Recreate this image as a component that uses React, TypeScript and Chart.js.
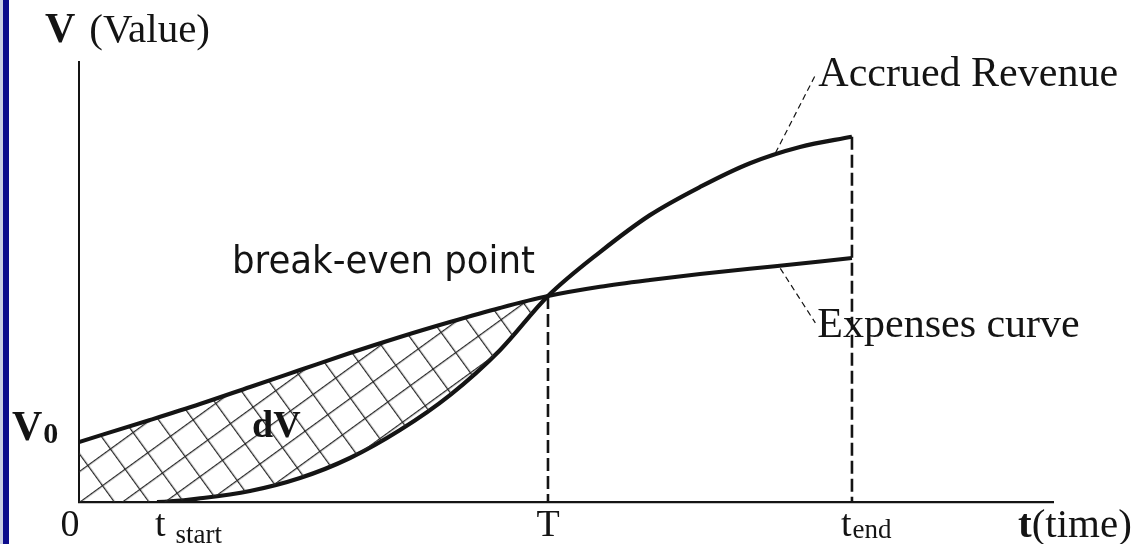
import React, { useEffect, useRef } from 'react';
import { Chart, registerables } from 'chart.js';

Chart.register(...registerables);

// ---- data (time axis 0..100, value axis 0..100, arbitrary units) ----
const revenueT = [0, 8.0, 12.73, 17.56, 22.69, 27.82, 32.96, 38.09, 43.22, 48.15, 53.49, 58.62, 63.76, 68.89, 74.02, 79.36];
const revenueV = [0, 0, 0.91, 2.5, 5.45, 10.0, 16.36, 24.3, 34.5, 46.8, 56.8, 65.2, 71.6, 77.0, 80.7, 83.0];
const expensesT = [0, 7.29, 12.42, 17.56, 22.69, 27.82, 32.96, 38.09, 43.22, 48.15, 53.49, 58.62, 63.76, 71.46, 79.36];
const expensesV = [13.64, 18.64, 22.27, 26.14, 30.0, 33.86, 37.5, 40.9, 44.1, 46.8, 48.9, 50.45, 51.8, 53.6, 55.45];

// key time marks on the horizontal axis
const markT = [0, 8.0, 48.15, 79.36];
const markMain = ['0', 't', 'T', 't'];
const markSub = ['', 'start', '', 'end'];

const T_BREAK = 48.15;
const V_BREAK = 46.8;
const T_END = 79.36;
const V_END_REVENUE = 83.0;
const V0 = 13.64;

// leader lines of the curve labels: [fromT, fromV, toT, toV]
const revenueLeader = [71.5, 79.3, 75.6, 97.0];
const expensesLeader = [72.0, 53.1, 75.6, 40.7];

const INK = '#141414';
const SERIF = '"Liberation Serif", "Times New Roman", serif';
const SANS = '"DejaVu Sans", Verdana, sans-serif';

function makeHatch(): CanvasPattern | string {
  const w = 28, h = 25;
  const c = document.createElement('canvas');
  c.width = w; c.height = h;
  const g = c.getContext('2d');
  if (!g) return 'transparent';
  g.fillStyle = '#262626';
  g.fillRect(0, 0, w, 1.25);
  g.fillRect(0, 0, 1.25, h);
  const p = g.createPattern(c, 'repeat');
  if (!p) return 'transparent';
  p.setTransform(new DOMMatrix().translateSelf(79, 502).rotateSelf(-36));
  return p;
}

const annotations = {
  id: 'annotations',
  afterDatasetsDraw(chart: any) {
    const { ctx, chartArea: a, scales } = chart;
    const X = (v: number) => scales.x.getPixelForValue(v);
    const Y = (v: number) => scales.y.getPixelForValue(v);
    ctx.save();
    ctx.strokeStyle = INK;
    ctx.fillStyle = INK;

    // dashed drop lines
    ctx.lineWidth = 2.6;
    ctx.setLineDash([13, 5]);
    ctx.beginPath();
    ctx.moveTo(X(T_BREAK), Y(V_BREAK));
    ctx.lineTo(X(T_BREAK), a.bottom);
    ctx.moveTo(X(T_END), Y(V_END_REVENUE));
    ctx.lineTo(X(T_END), a.bottom);
    ctx.stroke();

    // leader lines
    ctx.lineWidth = 1.2;
    ctx.setLineDash([6, 4]);
    ctx.beginPath();
    for (const l of [revenueLeader, expensesLeader]) {
      ctx.moveTo(X(l[0]), Y(l[1]));
      ctx.lineTo(X(l[2]), Y(l[3]));
    }
    ctx.stroke();
    ctx.setLineDash([]);

    const text = (s: string, x: number, y: number, font: string, align: CanvasTextAlign = 'left') => {
      ctx.font = font;
      ctx.textAlign = align;
      ctx.textBaseline = 'alphabetic';
      ctx.fillText(s, x, y);
      return ctx.measureText(s).width;
    };

    // axis titles
    let w = text('V', 45, 42, `bold 42px ${SERIF}`);
    text('(Value)', 45 + w + 14, 42, `41px ${SERIF}`);
    w = text('t', 1018, 537, `bold 41px ${SERIF}`);
    text('(time)', 1018 + w, 537, `41px ${SERIF}`);

    // V0
    w = text('V', 12, Y(V0) - 2, `bold 42px ${SERIF}`);
    text('0', 12 + w + 1, Y(V0) + 1, `bold 30px ${SERIF}`);

    // time marks
    const offs = [-9, -2, 0, -11];
    const aligns: CanvasTextAlign[] = ['center', 'left', 'center', 'left'];
    markT.forEach((t, i) => {
      const px = X(t) + offs[i];
      const mw = text(markMain[i], px, 536, `38px ${SERIF}`, aligns[i]);
      if (markSub[i]) {
        const gap = markSub[i] === 'start' ? 10 : 1;
        const dy = markSub[i] === 'start' ? 543 : 538;
        text(markSub[i], px + mw + gap, dy, `27px ${SERIF}`);
      }
    });

    // curve labels
    text('Accrued Revenue', X(revenueLeader[2]) + 3, 86, `42px ${SERIF}`);
    text('Expenses curve', X(expensesLeader[2]) + 2, 337, `42px ${SERIF}`);

    // dV inside the hatched area
    text('dV', 252, 437, `bold 38px ${SERIF}`);

    // break-even label (fit to width)
    ctx.font = `37px ${SANS}`;
    const label = 'break-even point';
    const target = 303;
    const mw = ctx.measureText(label).width;
    const sx = target / mw;
    ctx.save();
    ctx.translate(X(T_BREAK) - 13, 273);
    ctx.scale(sx, 1);
    ctx.textAlign = 'right';
    ctx.fillText(label, 0, 0);
    ctx.restore();

    ctx.restore();
  },
};

export default function App() {
  const ref = useRef<HTMLCanvasElement>(null);
  useEffect(() => {
    if (!ref.current) return;
    const hatch = makeHatch();
    const chart = new Chart(ref.current, {
      type: 'line',
      data: {
        datasets: [
          {
            label: 'Expenses curve',
            data: expensesT.map((t, i) => ({ x: t, y: expensesV[i] })),
            borderColor: INK,
            borderWidth: 4,
            pointRadius: 0,
            cubicInterpolationMode: 'monotone',
            fill: { target: 1, above: hatch as any, below: 'rgba(0,0,0,0)' },
          },
          {
            label: 'Accrued Revenue',
            data: revenueT.map((t, i) => ({ x: t, y: revenueV[i] })),
            borderColor: INK,
            borderWidth: 4.2,
            pointRadius: 0,
            cubicInterpolationMode: 'monotone',
            fill: false,
            segment: {
              borderColor: (c: any) => (c.p0DataIndex === 0 ? 'rgba(0,0,0,0)' : undefined),
            },
          },
        ],
      },
      options: {
        animation: false,
        responsive: false,
        layout: { padding: { left: 79, top: 62, right: 87, bottom: 42 } },
        plugins: { legend: { display: false }, tooltip: { enabled: false } },
        scales: {
          x: {
            type: 'linear',
            min: 0,
            max: 100,
            grid: { display: false, drawTicks: false },
            ticks: { display: false },
            border: { display: true, color: INK, width: 2.2 },
          },
          y: {
            type: 'linear',
            min: 0,
            max: 100,
            grid: { display: false, drawTicks: false },
            ticks: { display: false },
            border: { display: true, color: INK, width: 2 },
          },
        },
      },
      plugins: [annotations],
    });
    return () => chart.destroy();
  }, []);

  return (
    <div style={{ position: 'fixed', left: 0, top: 0, width: 1140, height: 544, background: '#fff' }}>
      <canvas ref={ref} width={1140} height={544} style={{ position: 'absolute', left: 0, top: 0 }} />
      <div style={{ position: 'absolute', left: 0, top: 0, width: 3, height: 544, background: '#c9cde3' }} />
      <div style={{ position: 'absolute', left: 3, top: 0, width: 6, height: 544, background: '#0c0c8c' }} />
    </div>
  );
}
